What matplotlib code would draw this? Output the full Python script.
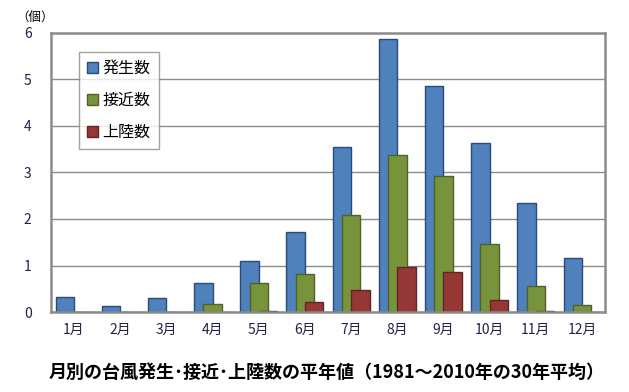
import matplotlib.pyplot as plt
from matplotlib.patches import Patch
import numpy as np

plt.rcParams['font.family'] = ['Noto Sans CJK JP', 'DejaVu Sans']

months = ['1月', '2月', '3月', '4月', '5月', '6月', '7月', '8月', '9月', '10月', '11月', '12月']
hassei = [0.33, 0.14, 0.31, 0.63, 1.09, 1.71, 3.55, 5.86, 4.85, 3.63, 2.35, 1.17]
sekkin = [0.0, 0.0, 0.0, 0.17, 0.63, 0.82, 2.08, 3.38, 2.92, 1.47, 0.57, 0.15]
joriku = [0.0, 0.0, 0.0, 0.0, 0.03, 0.21, 0.47, 0.96, 0.85, 0.26, 0.03, 0.0]
names = ['発生数', '接近数', '上陸数']

colors = ['#4F81BD', '#77933C', '#953735']
edges = ['#2A4A78', '#4F6228', '#632523']


def main():
    fig = plt.figure(figsize=(6.29, 3.92), dpi=100)
    ax = fig.add_axes([0.081, 0.204, 0.881, 0.712])

    x = np.arange(len(months))
    w = 0.4
    for i, vals in enumerate([hassei, sekkin, joriku]):
        ax.bar(x + (i - 1) * w / 2, vals, width=w, color=colors[i],
               edgecolor=edges[i], linewidth=1.0, zorder=3 + i)

    ax.set_xlim(-0.5, 11.5)
    ax.set_ylim(0, 6)
    ax.set_yticks(range(7))
    ax.set_xticks(x)
    ax.set_xticklabels(months, fontsize=10, color='#222244')
    ax.tick_params(axis='y', labelsize=10, colors='#222244', length=0, pad=14)
    ax.tick_params(axis='x', length=0, pad=8)
    ax.grid(axis='y', color='#8c8c8c', linewidth=1.0, zorder=0)
    for s in ax.spines.values():
        s.set_color('#8c8c8c')
        s.set_linewidth(1.8)
        s.set_zorder(8)

    handles = [Patch(facecolor=colors[i], edgecolor=edges[i]) for i in range(3)]
    leg = ax.legend(handles, names, loc='upper left', bbox_to_anchor=(0.05, 0.932),
                    borderaxespad=0, fontsize=11.5, frameon=True, fancybox=False,
                    handlelength=0.7, handleheight=0.7, handletextpad=0.3,
                    labelspacing=0.95, borderpad=0.5)
    leg.get_frame().set_edgecolor('#8c8c8c')
    leg.get_frame().set_linewidth(1.0)
    leg.set_zorder(10)

    fig.text(0.055, 0.955, '（個）', fontsize=9, ha='center', va='center')
    fig.text(0.52, 0.05, '月別の台風発生･接近･上陸数の平年値（1981～2010年の30年平均）',
             fontsize=13, fontweight='bold', ha='center', va='center')

    fig.savefig('out.png', dpi=100)


if __name__ == "__main__":
    main()
